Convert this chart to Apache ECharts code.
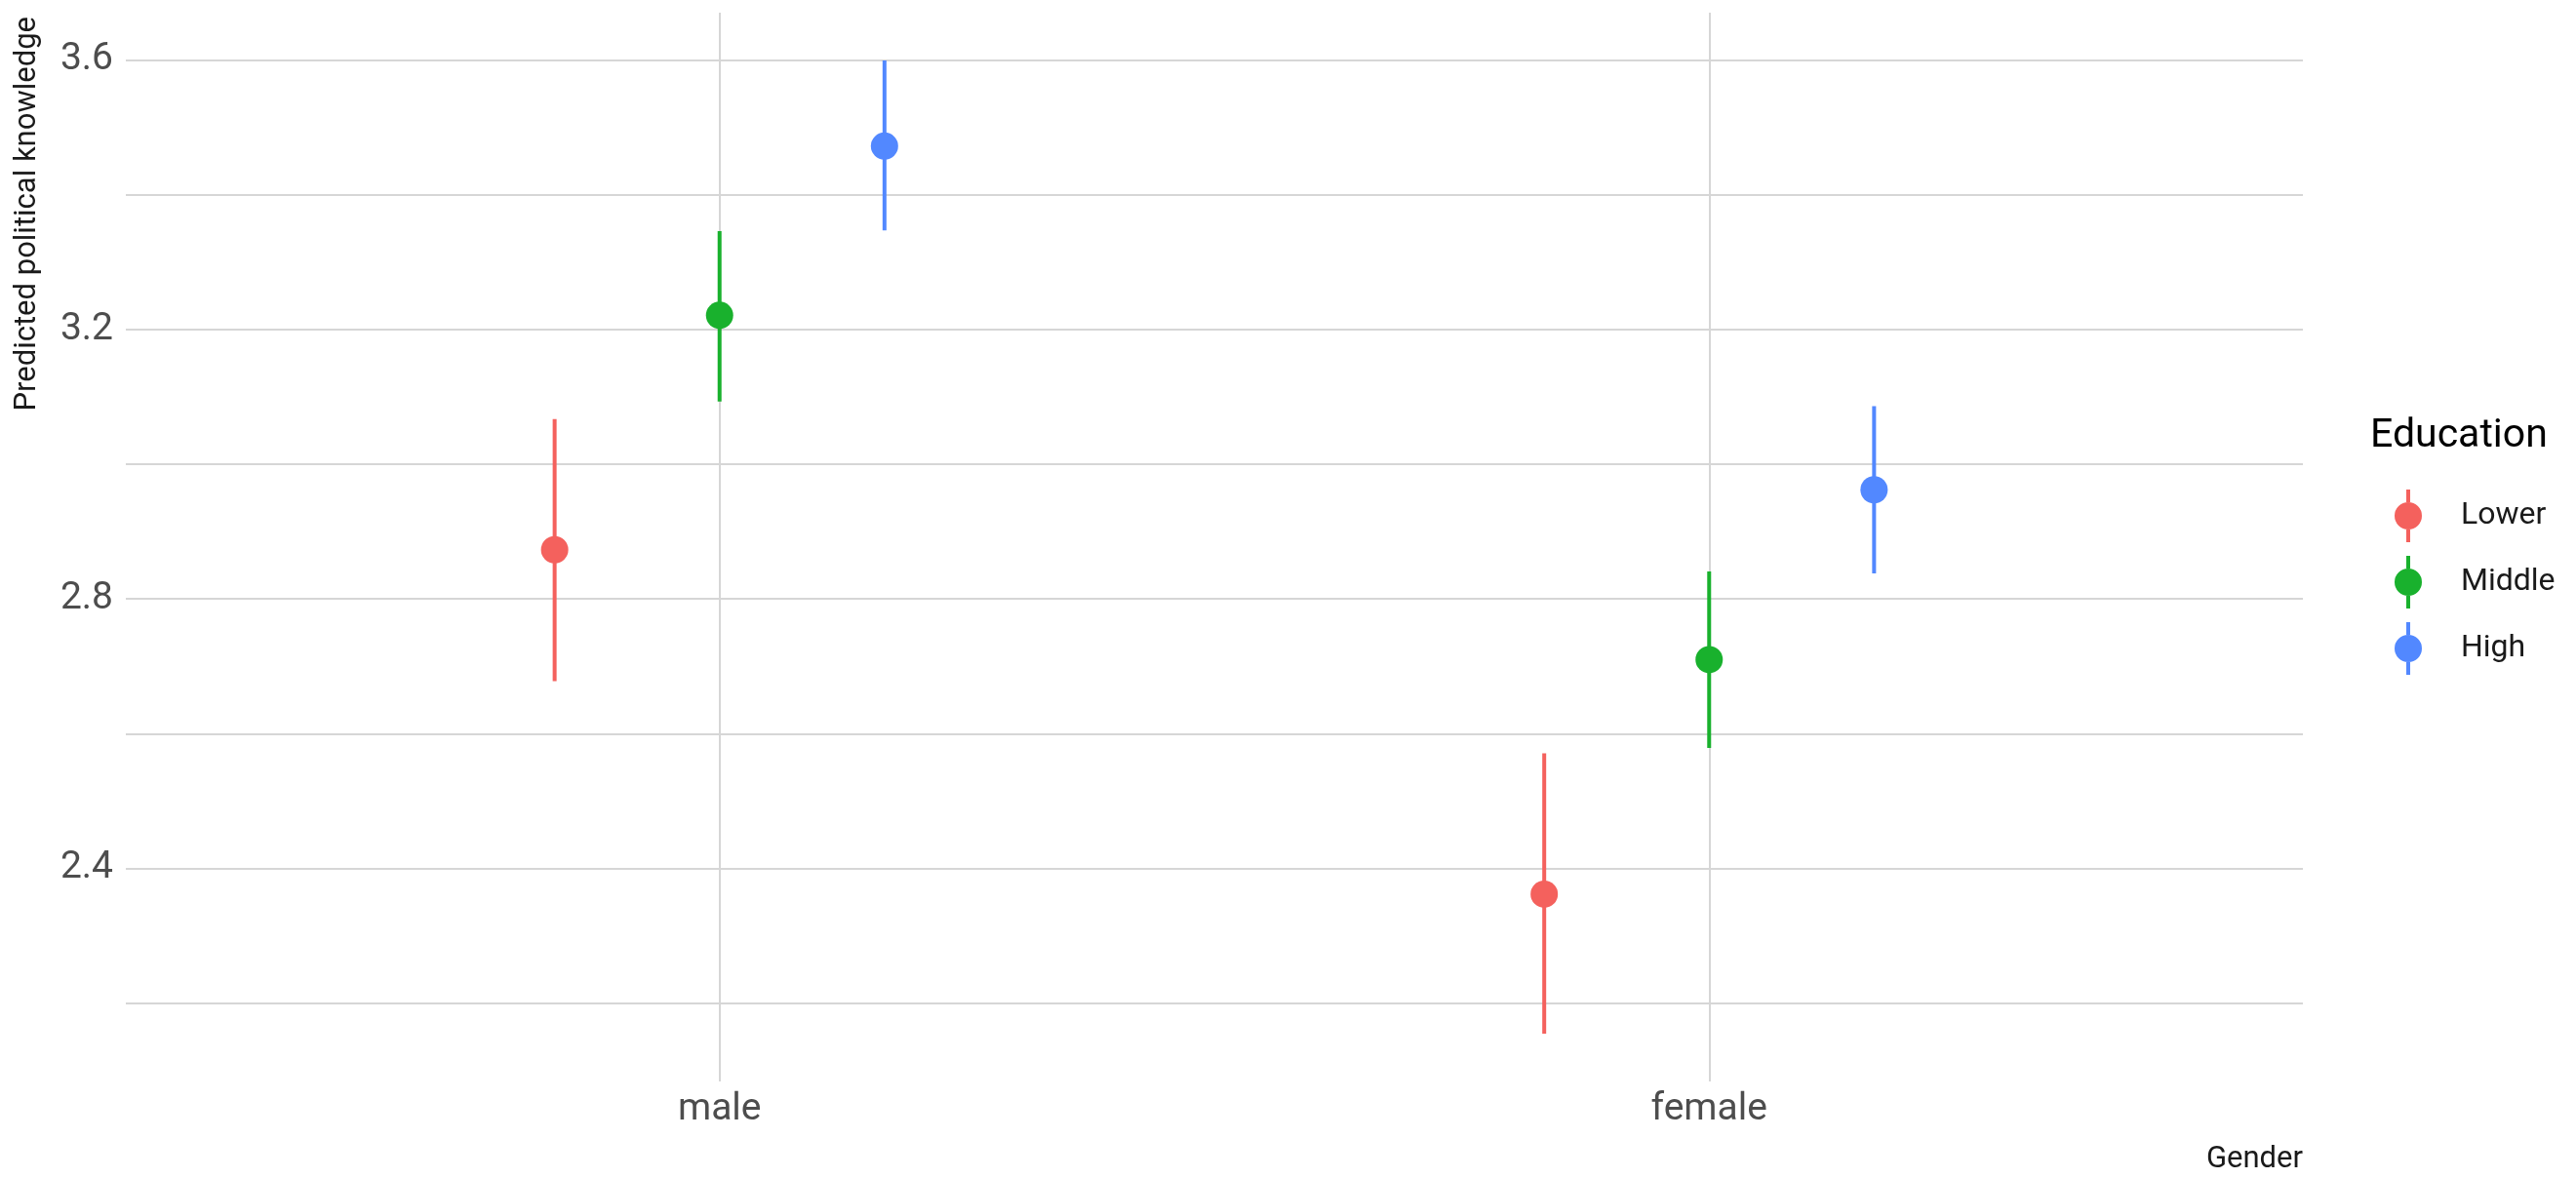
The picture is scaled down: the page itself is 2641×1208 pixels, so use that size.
<!DOCTYPE html>
<html>
<head>
<meta charset="utf-8">
<title>Predicted political knowledge</title>
<script src="https://cdn.jsdelivr.net/npm/echarts@6/dist/echarts.min.js"></script>
<style>
html, body { margin: 0; padding: 0; background: #fff; }
#chart { width: 2641px; height: 1208px; }
</style>
</head>
<body>
<div id="chart"></div>
<script>
// data
var genders = ['male', 'female'];
var levels = ['Lower', 'Middle', 'High'];
var estLower = [2.873, 2.362];
var estMiddle = [3.221, 2.710];
var estHigh = [3.472, 2.962];
var lowLower = [2.678, 2.155];
var lowMiddle = [3.093, 2.579];
var lowHigh = [3.347, 2.838];
var highLower = [3.067, 2.571];
var highMiddle = [3.346, 2.841];
var highHigh = [3.599, 3.086];
var yLabelTicks = [2.4, 2.8, 3.2, 3.6];
var yGridTicks = [2.2, 2.4, 2.6, 2.8, 3.0, 3.2, 3.4, 3.6];

var colors = ['#F4615D', '#19B12D', '#5288FF'];
var estimates = [estLower, estMiddle, estHigh];
var lows = [lowLower, lowMiddle, lowHigh];
var highs = [highLower, highMiddle, highHigh];
var font = 'Roboto, "Noto Sans", sans-serif';
var dodge = 0.5; // ggplot position_dodge width

// legend key: vertical line with a dot through it
var keyIcon = 'path://M12,0 L16,0 L16,13 L12,13 Z M12,41 L16,41 L16,54 L12,54 Z M0,27 A14,14 0 1,1 28,27 A14,14 0 1,1 0,27 Z';

var chart = echarts.init(document.getElementById('chart'));

function renderBar(params, api) {
  var top = api.coord([api.value(0), api.value(2)]);
  var bottom = api.coord([api.value(0), api.value(1)]);
  return {
    type: 'line',
    shape: { x1: top[0], y1: top[1], x2: bottom[0], y2: bottom[1] },
    style: { stroke: api.visual('color'), lineWidth: 4 }
  };
}

var series = [];
levels.forEach(function (name, i) {
  var offset = (i - 1) * dodge / 3;
  series.push({
    name: name,
    type: 'scatter',
    symbolSize: 28,
    z: 4,
    itemStyle: { color: colors[i], opacity: 1 },
    data: genders.map(function (g, j) { return [j + 1 + offset, estimates[i][j]]; })
  });
});
levels.forEach(function (name, i) {
  var offset = (i - 1) * dodge / 3;
  series.push({
    name: name,
    type: 'custom',
    z: 3,
    renderItem: renderBar,
    itemStyle: { color: colors[i] },
    encode: { x: 0, y: [1, 2] },
    data: genders.map(function (g, j) { return [j + 1 + offset, lows[i][j], highs[i][j]]; })
  });
});

var option = {
  backgroundColor: '#fff',
  animation: false,
  grid: { left: 129, right: 280, top: 13, bottom: 99 },
  xAxis: {
    type: 'value',
    min: 0.4,
    max: 2.6,
    axisLine: { show: false },
    axisTick: { show: false, customValues: [1, 2] },
    axisLabel: {
      customValues: [1, 2],
      formatter: function (v) { return genders[Math.round(v) - 1]; },
      color: '#4D4D4D',
      fontFamily: font,
      fontSize: 39,
      margin: 10
    },
    splitLine: { show: true, lineStyle: { color: '#D6D6D6', width: 2 } }
  },
  yAxis: {
    type: 'value',
    min: 2.084,
    max: 3.670,
    axisLine: { show: false },
    axisTick: { show: false, customValues: yGridTicks },
    axisLabel: {
      customValues: yLabelTicks,
      formatter: function (v) { return v.toFixed(1); },
      color: '#4D4D4D',
      fontFamily: font,
      fontSize: 39,
      margin: 13
    },
    splitLine: { show: true, lineStyle: { color: '#D6D6D6', width: 2 } }
  },
  legend: {
    orient: 'vertical',
    left: 2450,
    top: 497,
    itemWidth: 28,
    itemHeight: 54,
    itemGap: 14,
    data: levels.map(function (n) { return { name: n, icon: keyIcon }; }),
    textStyle: { fontFamily: font, fontSize: 32, color: '#1A1A1A', padding: [0, 0, 0, 35] }
  },
  graphic: [
    {
      type: 'text',
      x: 28,
      y: 17,
      rotation: Math.PI / 2,
      style: {
        text: 'Predicted political knowledge',
        align: 'right',
        verticalAlign: 'middle',
        fontFamily: font,
        fontSize: 31,
        fill: '#1A1A1A'
      }
    },
    {
      type: 'text',
      x: 2361,
      y: 1189,
      style: {
        text: 'Gender',
        align: 'right',
        verticalAlign: 'middle',
        fontFamily: font,
        fontSize: 31,
        fill: '#1A1A1A'
      }
    },
    {
      type: 'text',
      x: 2430,
      y: 448,
      style: {
        text: 'Education',
        align: 'left',
        verticalAlign: 'middle',
        fontFamily: font,
        fontSize: 41,
        fill: '#000'
      }
    }
  ],
  series: series
};

chart.setOption(option);
</script>
</body>
</html>
